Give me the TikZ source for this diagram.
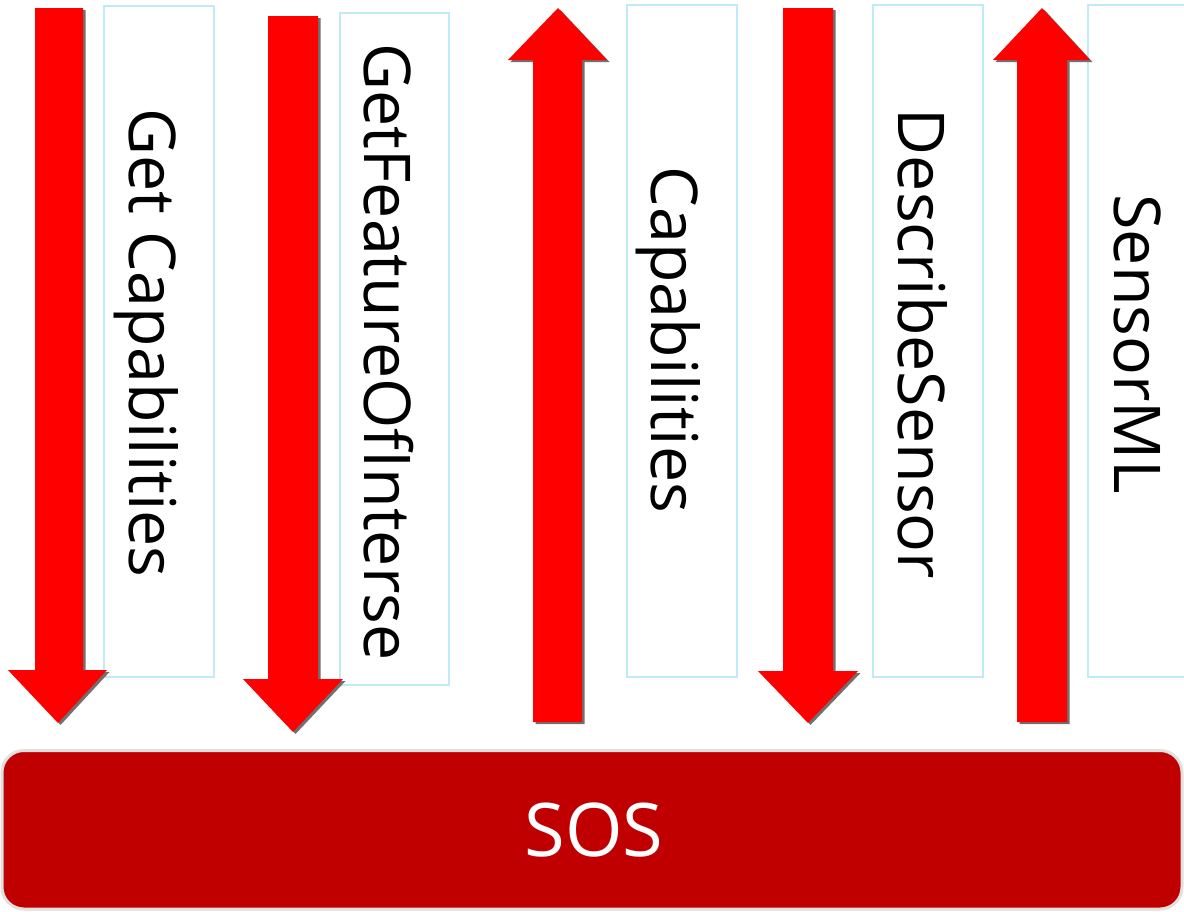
\documentclass[tikz,border=0pt]{standalone}
\usepackage{fontspec}
\setmainfont{Open Sans}
\definecolor{arrowred}{HTML}{FF0000}
\definecolor{sosred}{HTML}{C00000}
\definecolor{boxblue}{HTML}{BFEAF6}
\definecolor{shadowgray}{HTML}{707070}
\begin{document}
\begin{tikzpicture}[x=1pt,y=-1pt,
  labelbox/.style={draw=boxblue, line width=1.5pt, fill=white, inner sep=0pt, outer sep=0pt},
  vlabel/.style={rotate=-90, anchor=base, inner sep=0pt, font=\fontsize{64.5}{64.5}\selectfont},
  redarrow/.style={fill=arrowred},
  arrowshadow/.style={fill=shadowgray},
  sosbar/.style={fill=sosred, draw=black!12, line width=3pt, rounded corners=22pt},
  soslabel/.style={anchor=base, inner sep=0pt, text=white, font=\fontsize{74}{74}\selectfont}]
\useasboundingbox (0,0) rectangle (1184,911);
\clip (0,0) rectangle (1184,911);
\fill[white] (0,0) rectangle (1184,911);

% label boxes
\node[labelbox, minimum width=110pt, minimum height=671pt] (b1) at (159,341.5) {};
\node[labelbox, minimum width=109pt, minimum height=672pt] (b2) at (394.5,349) {};
\node[labelbox, minimum width=110pt, minimum height=672pt] (b3) at (682,341) {};
\node[labelbox, minimum width=110pt, minimum height=672pt] (b4) at (928,341) {};
\node[labelbox, minimum width=112pt, minimum height=672pt] (b5) at (1144,341) {};

% labels
\node[vlabel] (t1) at (129,343) {Get Capabilities};
\node[vlabel] (t2) at (364,352) {GetFeatureOfInterse};
\node[vlabel] (t3) at (651,340) {Capabilities};
\node[vlabel] (t4) at (898,344) {DescribeSensor};
\node[vlabel] (t5) at (1114,344) {SensorML};

% block arrows (shadow then red)
\foreach \s/\dx/\dy in {arrowshadow/2.5/2, redarrow/0/0} {
  \begin{scope}[xshift=\dx pt, yshift=-\dy pt]
    % 1 down
    \fill[\s] (35,8) -- (83,8) -- (83,670) -- (107,670) -- (58,723) -- (8,670) -- (35,670) -- cycle;
    % 2 down
    \fill[\s] (268,16) -- (318,16) -- (318,679) -- (343,679) -- (293,732) -- (243,679) -- (268,679) -- cycle;
    % 3 up
    \fill[\s] (533,722) -- (582,722) -- (582,60) -- (607,60) -- (558,8) -- (508,60) -- (533,60) -- cycle;
    % 4 down
    \fill[\s] (783,8) -- (833,8) -- (833,671) -- (858,671) -- (808,723) -- (758,671) -- (783,671) -- cycle;
    % 5 up
    \fill[\s] (1017,722) -- (1067,722) -- (1067,60) -- (1090,60) -- (1042,8) -- (993,60) -- (1017,60) -- cycle;
  \end{scope}
}

% SOS bar
\path[sosbar] (2,750.5) rectangle (1182,909);
\node[soslabel] (sos) at (594,856) {SOS};
\end{tikzpicture}
\end{document}
